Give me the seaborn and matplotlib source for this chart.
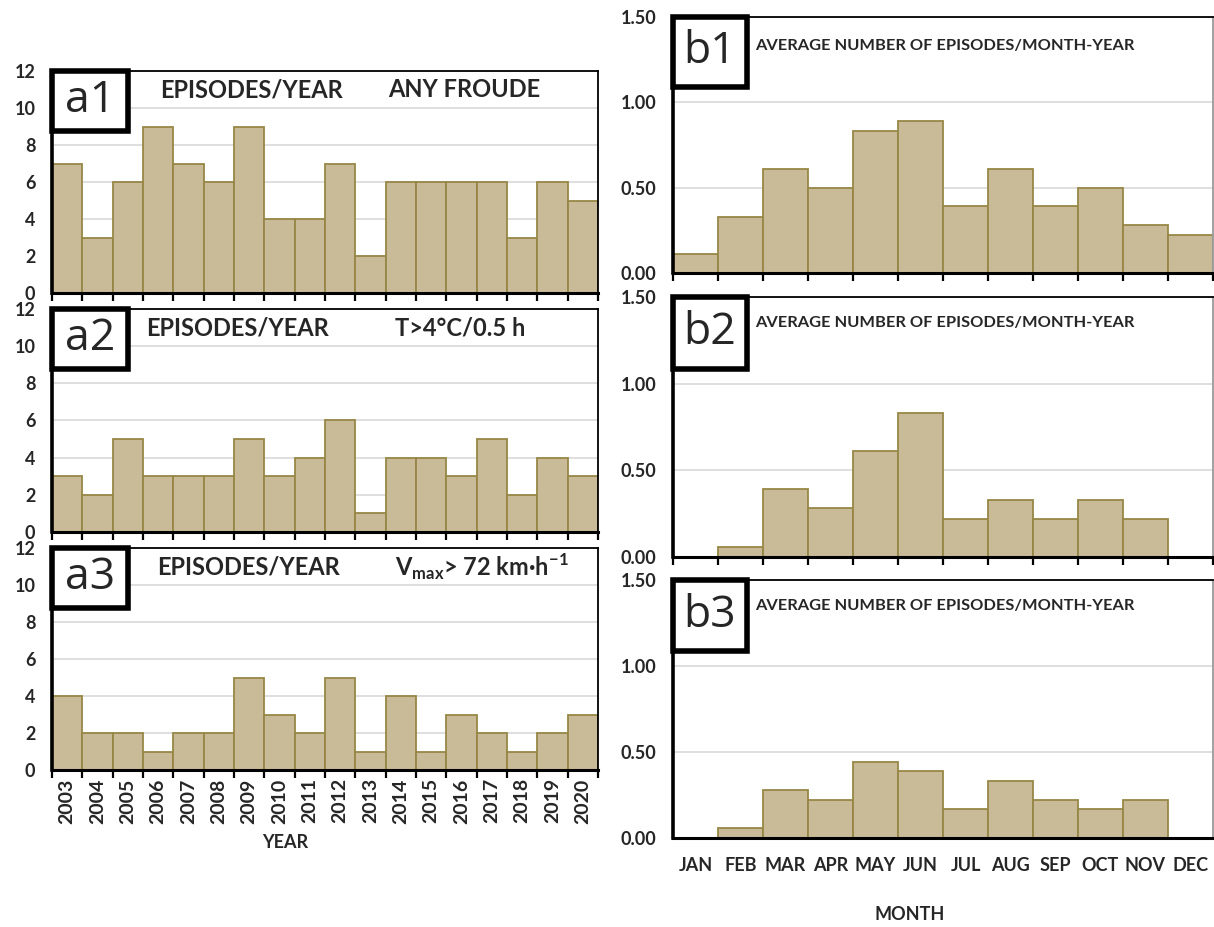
import matplotlib
matplotlib.use("Agg")
import matplotlib.pyplot as plt
from matplotlib.patches import Rectangle
import seaborn as sns
import pandas as pd

# ---- data -------------------------------------------------------------
years = ["2003", "2004", "2005", "2006", "2007", "2008", "2009", "2010", "2011",
         "2012", "2013", "2014", "2015", "2016", "2017", "2018", "2019", "2020"]
episodes_any_froude = [7, 3, 6, 9, 7, 6, 9, 4, 4, 7, 2, 6, 6, 6, 6, 3, 6, 5]
episodes_temp = [3, 2, 5, 3, 3, 3, 5, 3, 4, 6, 1, 4, 4, 3, 5, 2, 4, 3]
episodes_wind = [4, 2, 2, 1, 2, 2, 5, 3, 2, 5, 1, 4, 1, 3, 2, 1, 2, 3]

months = ["JAN", "FEB", "MAR", "APR", "MAY", "JUN",
          "JUL", "AUG", "SEP", "OCT", "NOV", "DEC"]
monthly_any_froude = [0.11, 0.33, 0.61, 0.50, 0.83, 0.89, 0.39, 0.61, 0.39, 0.50, 0.28, 0.22]
monthly_temp = [0.00, 0.06, 0.39, 0.28, 0.61, 0.83, 0.22, 0.33, 0.22, 0.33, 0.22, 0.00]
monthly_wind = [0.00, 0.06, 0.28, 0.22, 0.44, 0.39, 0.17, 0.33, 0.22, 0.17, 0.22, 0.00]

year_ticks = [0, 2, 4, 6, 8, 10, 12]
month_ticks = [0.0, 0.5, 1.0, 1.5]

# ---- style ------------------------------------------------------------
sns.set_theme(style="white")
plt.rcParams["font.family"] = ["Lato", "DejaVu Sans"]

FILL = "#C9BB98"
EDGE = "#978747"
GRID = "#D9D9D9"

fig = plt.figure(figsize=(12.14, 9.27), dpi=100)

W, H = 1214, 927


def place(left, right, top, bottom):
    return [left / W, 1 - bottom / H, (right - left) / W, (bottom - top) / H]


def draw_bars(ax, cats, vals, ymax, ticks, fmt):
    df = pd.DataFrame({"cat": cats, "val": vals})
    sns.barplot(data=df, x="cat", y="val", order=cats, color=FILL, saturation=1,
                edgecolor=EDGE, linewidth=1.3, width=1.0, ax=ax, zorder=2)
    n = len(cats)
    ax.set_xlim(-0.5, n - 0.5)
    ax.set_ylim(0, ymax)
    ax.set_yticks(ticks)
    ax.set_yticklabels([fmt.format(t) for t in ticks], fontsize=13, fontweight="bold")
    ax.set_xlabel("")
    ax.set_ylabel("")
    ax.yaxis.grid(True, color=GRID, linewidth=1.2, zorder=0)
    ax.set_axisbelow(True)
    ax.tick_params(axis="y", length=0, pad=12)
    # boundary ticks between categories
    ax.set_xticks([i - 0.5 for i in range(n + 1)], minor=True)
    ax.tick_params(axis="x", which="minor", length=6, width=1.6, color="black",
                   direction="out", bottom=True)
    ax.tick_params(axis="x", which="major", length=0)
    ax.spines["left"].set_linewidth(2.6)
    ax.spines["bottom"].set_linewidth(2.2)
    for s in ("left", "bottom", "top"):
        ax.spines[s].set_color("black")
    ax.spines["top"].set_linewidth(1.3)
    ax.spines["right"].set_linewidth(1.3)
    ax.spines["right"].set_color("black")


def tag(ax, label, w, h):
    ax.add_patch(Rectangle((0, 1 - h), w, h, transform=ax.transAxes,
                           facecolor="white", edgecolor="black", linewidth=4,
                           zorder=10, clip_on=False))
    ax.text(w / 2, 1 - h / 2, label, transform=ax.transAxes, ha="center",
            va="center", fontsize=32, zorder=11, family=["Open Sans", "DejaVu Sans"])


# ---- left column: episodes per year -----------------------------------
a_pos = [(71, 293), (309, 532), (548, 770)]
a_data = [episodes_any_froude, episodes_temp, episodes_wind]
a_tags = ["a1", "a2", "a3"]
a_titles = [
    [(0.198, "EPISODES/YEAR"), (0.615, "ANY FROUDE")],
    [(0.172, "EPISODES/YEAR"), (0.628, "T>4°C/0.5 h")],
    [(0.192, "EPISODES/YEAR"), (0.628, r"V$_{\mathregular{max}}$> 72 km·h$^{\mathregular{-1}}$")],
]
a_axes = []
for (top, bottom), vals, t, titles in zip(a_pos, a_data, a_tags, a_titles):
    ax = fig.add_axes(place(52, 598, top, bottom))
    draw_bars(ax, years, vals, 12, year_ticks, "{:d}")
    tag(ax, t, 0.139, 0.27)
    for x, s in titles:
        ax.text(x, 0.915, s, transform=ax.transAxes, ha="left", va="center",
                fontsize=17, fontweight="bold", zorder=5)
    a_axes.append(ax)

for ax in a_axes[:-1]:
    ax.set_xticklabels([])
a_axes[-1].set_xticklabels(years, rotation=90, fontsize=14, fontweight="bold")
a_axes[-1].tick_params(axis="x", which="major", pad=6)
fig.text(285 / W, 1 - 843 / H, "YEAR", ha="center", va="center",
         fontsize=13, fontweight="bold")

# ---- right column: average per month ----------------------------------
b_pos = [(17, 273), (297, 557), (580, 838)]
b_data = [monthly_any_froude, monthly_temp, monthly_wind]
b_tags = ["b1", "b2", "b3"]
b_title_y = [0.887, 0.9, 0.9]
b_axes = []
for (top, bottom), vals, t, ty in zip(b_pos, b_data, b_tags, b_title_y):
    ax = fig.add_axes(place(673, 1213, top, bottom))
    draw_bars(ax, months, vals, 1.5, month_ticks, "{:.2f}")
    ax.spines["right"].set_color("#9A9A9A")
    tag(ax, t, 0.137, 0.275)
    ax.text(0.152, ty, "AVERAGE NUMBER OF EPISODES/MONTH-YEAR", transform=ax.transAxes,
            ha="left", va="center", fontsize=11.8, fontweight="bold", zorder=5)
    b_axes.append(ax)

for ax in b_axes[:-1]:
    ax.set_xticklabels([])
b_axes[-1].tick_params(axis="x", which="minor", length=0)
b_axes[-1].set_xticklabels(months, fontsize=13, fontweight="bold")
b_axes[-1].tick_params(axis="x", which="major", pad=14)
fig.text(910 / W, 1 - 915 / H, "MONTH", ha="center", va="center",
         fontsize=13, fontweight="bold")

fig.savefig("out.png", dpi=100, facecolor="white")
